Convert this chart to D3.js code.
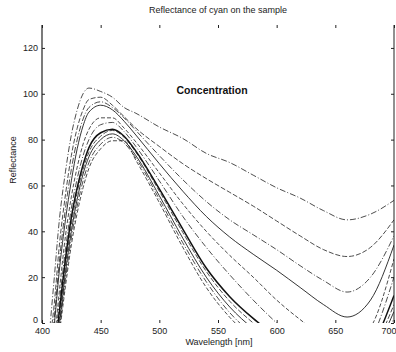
<!DOCTYPE html>
<html>
<head>
<meta charset="utf-8">
<script src="https://cdn.jsdelivr.net/npm/d3@7"></script>
<style>
  body { margin: 0; background: #fff; }
  svg { display: block; font-family: "Liberation Sans", Arial, sans-serif; }
</style>
</head>
<body>
<svg id="chart" width="396" height="352"></svg>
<script>
// wavelengths in nm
const wavelengths = [400, 405, 410, 415, 420, 425, 430, 435, 440, 450, 460, 470, 480, 500, 520, 540, 560, 580, 600, 620, 640, 660, 680, 700];

// reflectance curves, lowest concentration first
const c1  = [-40, -12, 17, 46, 66, 82, 93, 100, 102.5, 101, 98.5, 94, 91.5, 85.5, 80.5, 74, 70, 64.5, 59, 54.5, 49, 45, 47.5, 53.5];
const c2  = [-40, -14, 6, 35, 56, 73, 85, 93, 97.5, 98.5, 95, 90, 85, 77, 69.5, 63, 57, 51, 44.5, 38, 32, 29, 33, 45];
const c3  = [-45, -20, 0, 28, 50, 67, 80, 89, 94, 96.5, 94, 89.5, 84, 73, 62.5, 53, 45, 38.5, 32, 25, 18.5, 13.5, 20, 38];
const c4  = [-45, -22, -3, 24, 45, 62, 76, 86, 92, 95, 93, 88, 82, 69.5, 57.5, 46.5, 37.5, 30, 23, 15.5, 8, 2.6, 10, 34];
const c5  = [-50, -28, -10, 15, 38, 55, 68, 78, 84.5, 89.5, 89.5, 85, 79, 65.5, 52, 40, 29.5, 20, 10, 1.5, -6, -10, -2, 28];
const c6  = [-55, -32, -14, 10, 32, 50, 63, 73, 80, 86.5, 87.5, 83.5, 77, 62, 46.5, 33, 21, 10, 0, -9, -16, -20, -8, 20];
const c7  = [-58, -35, -16, 6, 28, 46, 59, 69, 76.5, 83, 84.5, 81.5, 75, 58.5, 41, 24, 11.5, 2, -6, -14, -20, -24, -12, 12];
const c8  = [-60, -38, -19, 3, 25, 43, 57, 67, 74.5, 81.5, 84, 81, 74.5, 57.5, 39.5, 22.5, 9.5, 0, -8, -16, -22, -26, -14, 8];
const c9  = [-62, -40, -21, 0, 22, 40, 54, 65, 72.5, 80, 82.5, 79.5, 73, 55.5, 37, 20, 7, -2.5, -10, -18, -24, -28, -16, 5];
const c10 = [-64, -42, -23, -2, 19, 37, 51, 62, 70, 78, 81, 78.5, 72, 54, 35, 18, 4.5, -5, -12, -20, -26, -30, -18, 2];
const c11 = [-66, -44, -25, -4, 16, 34, 48, 59, 67.5, 76, 79.5, 79.5, 71, 52.5, 33, 15.5, 2.5, -7, -14, -22, -28, -32, -20, 0];
const curves = [c1, c2, c3, c4, c5, c6, c7, c8, c9, c10, c11];

const xTicks = [400, 450, 500, 550, 600, 650, 700];
const yTicks = [0, 20, 40, 60, 80, 100, 120];

// line dash per curve (scanned print, mixed styles)
const dashes = ['6,2,1,2', '5,2', '6,2,1,2', 'none', '4,2', '6,2,1,2', 'none', '5,2', 'none', '6,2,1,2', '4,2'];
const widths = [0.75, 0.75, 0.75, 0.85, 0.75, 0.75, 1.5, 0.75, 0.85, 0.75, 0.75];

const svg = d3.select('#chart');
const m = { left: 42, right: 394, top: 25, bottom: 323 };

const x = d3.scaleLinear().domain([400, 700]).range([m.left, m.right]);
const y = d3.scaleLinear().domain([0, 130]).range([m.bottom, m.top]);

svg.append('defs').append('clipPath').attr('id', 'plot-clip')
  .append('rect')
  .attr('x', m.left).attr('y', m.top)
  .attr('width', m.right - m.left).attr('height', m.bottom - m.top);

// Curves
const line = d3.line()
  .x((d, i) => x(wavelengths[i]))
  .y(d => y(d))
  .curve(d3.curveMonotoneX);

svg.append('g')
  .attr('clip-path', 'url(#plot-clip)')
  .selectAll('path')
  .data(curves)
  .enter()
  .append('path')
  .attr('d', line)
  .attr('fill', 'none')
  .attr('stroke', '#111')
  .attr('stroke-width', (d, i) => widths[i])
  .attr('stroke-dasharray', (d, i) => dashes[i]);

// Axes (MATLAB style: inward ticks)
const axisColor = '#222';
const xAxis = d3.axisBottom(x).tickValues(xTicks).tickSizeInner(-3).tickSizeOuter(0).tickPadding(5);
const gx = svg.append('g').attr('transform', `translate(0,${m.bottom})`).call(xAxis);
gx.select('.domain').remove();
// last label sits at the window edge, keep it inside
gx.selectAll('.tick text').filter(d => d === 700).attr('text-anchor', 'end').attr('dx', 2);

const xTop = d3.axisTop(x).tickValues(xTicks).tickSizeInner(-3).tickSizeOuter(0).tickFormat('');
const gxt = svg.append('g').attr('transform', `translate(0,${m.top})`).call(xTop);
gxt.select('.domain').remove();

const yAxis = d3.axisLeft(y).tickValues(yTicks).tickSizeInner(-3).tickSizeOuter(0).tickPadding(4);
const gy = svg.append('g').attr('transform', `translate(${m.left},0)`).call(yAxis);
gy.select('.domain').attr('d', `M0,${m.top}V${m.bottom}`).attr('stroke-width', 1.2);
gy.selectAll('.tick text').filter(d => d === 0).attr('dy', '-0.1em');

const yRight = d3.axisRight(y).tickValues(yTicks).tickSizeInner(-3).tickSizeOuter(0).tickFormat('');
const gyr = svg.append('g').attr('transform', `translate(${m.right},0)`).call(yRight);
gyr.select('.domain').attr('d', `M0,${m.top}V${m.bottom}`);

svg.selectAll('.tick text').attr('font-size', 9).attr('fill', axisColor)
  .attr('font-family', '"Liberation Sans", Arial, sans-serif');
svg.selectAll('.tick line, .domain').attr('stroke', axisColor);

// Labels
svg.append('text')
  .attr('x', 218).attr('y', 13)
  .attr('text-anchor', 'middle').attr('font-size', 9).attr('fill', axisColor)
  .text('Reflectance of cyan on the sample');

svg.append('text')
  .attr('x', 219).attr('y', 345)
  .attr('text-anchor', 'middle').attr('font-size', 9).attr('fill', axisColor)
  .text('Wavelength [nm]');

svg.append('text')
  .attr('transform', 'translate(16,160) rotate(-90)')
  .attr('text-anchor', 'middle').attr('font-size', 9).attr('fill', axisColor)
  .text('Reflectance');

svg.append('text')
  .attr('x', 212).attr('y', 94)
  .attr('text-anchor', 'middle').attr('font-size', 10.5).attr('font-weight', 'bold')
  .attr('fill', '#111')
  .text('Concentration');
</script>
</body>
</html>
